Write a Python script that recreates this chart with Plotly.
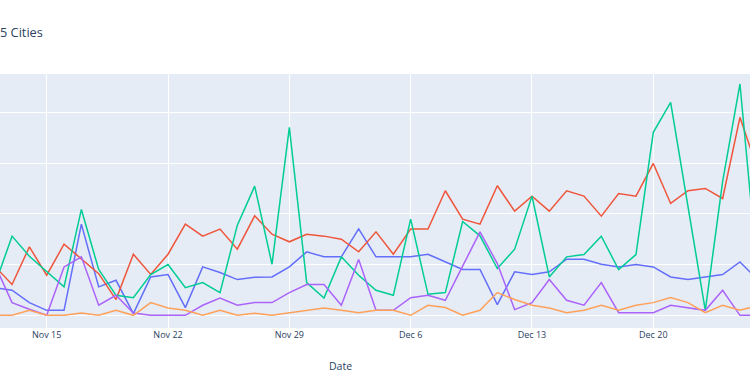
import pandas as pd
import plotly.graph_objects as go

dates = pd.date_range("2020-11-12", "2020-12-26", freq="D")

city_a = [27.0, 24.7, 12.5, 4.9, 4.9, 89.8, 28.0, 34.5, 1.6, 37.8, 40.1, 7.6, 47.7, 42.1, 35.2,
          37.5, 37.8, 47.7, 62.5, 57.6, 57.6, 85.2, 57.6, 57.6, 57.6, 60.2, 52.6, 45.1, 45.1, 10.5,
          42.8, 40.1, 42.8, 55.3, 55.3, 50.3, 47.7, 50.0, 47.7, 37.8, 35.2, 37.8, 40.1, 52.6, 35.5]
city_b = [48.4, 30.3, 67.4, 39.5, 70.1, 55.9, 41.0, 15.5, 60.2, 40.3, 60.2, 89.8, 78.0, 84.9, 65.1,
          98.0, 79.9, 72.4, 79.9, 78.0, 75.0, 62.5, 82.2, 60.2, 84.9, 84.9, 122.7, 94.7, 89.8, 127.6,
          102.6, 117.4, 102.6, 122.7, 117.4, 97.7, 120.0, 117.4, 149.6, 110.2, 122.7, 125.0, 115.1, 195.0, 144.7]
city_c = [29.6, 78.0, 58.2, 43.1, 28.0, 104.3, 45.1, 19.7, 17.4, 40.1, 50.0, 27.3, 32.2, 22.4, 88.8,
          127.3, 50.3, 185.2, 32.2, 17.1, 57.6, 39.5, 24.7, 19.7, 94.7, 20.7, 22.4, 92.4, 78.3, 46.1,
          65.1, 117.4, 37.8, 57.6, 59.9, 77.9, 45.1, 59.9, 180.2, 209.8, 107.6, 4.9, 131.6, 227.9, 44.4]
city_d = [50.0, 12.5, 5.9, 0, 47.7, 57.6, 9.9, 19.7, 2.3, 0, 0, 0, 9.9, 17.1, 9.9,
          12.5, 12.5, 22.4, 30.3, 30.3, 9.9, 55.0, 4.9, 4.9, 17.4, 19.7, 14.8, 48.7, 82.2, 51.0,
          5.6, 12.5, 35.2, 14.8, 9.9, 32.2, 2.6, 2.6, 2.6, 9.9, 7.2, 4.9, 24.7, 0, 0]
city_e = [0, 0, 4.9, 0, 0, 2.3, 0, 4.9, 0, 12.5, 7.2, 4.9, 0, 4.9, 0,
          2.0, 0, 2.6, 4.9, 7.2, 4.9, 2.6, 4.9, 4.9, 0, 9.9, 7.6, 0, 4.9, 22.4,
          15.5, 9.9, 7.2, 2.6, 4.9, 9.9, 4.9, 9.9, 12.5, 17.4, 12.5, 2.6, 9.9, 4.9, 9.5]

series = [("City A", city_a, "#636efa"), ("City B", city_b, "#EF553B"), ("City C", city_c, "#00cc96"),
          ("City D", city_d, "#ab63fa"), ("City E", city_e, "#FFA15A")]

fig = go.Figure()
for name, vals, color in series:
    fig.add_trace(go.Scatter(x=dates, y=vals, mode="lines", name=name,
                             line=dict(color=color, width=1.5)))

fig.update_layout(
    template="plotly",
    width=750, height=387,
    margin=dict(l=0, r=0, t=74, b=59),
    showlegend=False,
    font=dict(family="Open Sans, verdana, arial, sans-serif", color="#2a3f5f"),
    title=dict(text="5 Cities", x=0.0, xref="container", xanchor="left", y=1 - 33 / 387,
               yref="container", yanchor="middle", font=dict(size=12.75, color="#2a3f5f")),
)
fig.update_xaxes(range=["2020-11-12 07:19", "2020-12-25 13:55"], tick0="2020-11-15",
                 dtick=7 * 86400000, tickformat="%b %-d", tickfont=dict(size=9))
fig.update_yaxes(range=[-12.5, 237.7], dtick=50, showticklabels=False,
                 zerolinewidth=1)
fig.add_annotation(text="Date", xref="paper", yref="paper", x=340 / 750, y=(328 - 366) / 254,
                   xanchor="center", yanchor="middle", showarrow=False,
                   font=dict(size=10.5, color="#2a3f5f"))

fig.write_html("out.html", config={"displayModeBar": False},
               post_script="document.body.style.margin='0';document.body.style.overflow='hidden';")
